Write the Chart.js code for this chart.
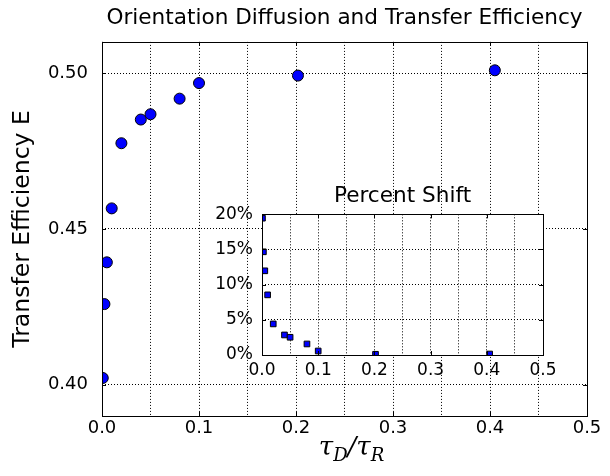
<!DOCTYPE html>
<html>
<head>
<meta charset="utf-8">
<script src="https://cdn.jsdelivr.net/npm/chart.js@4.4.0/dist/chart.umd.min.js"></script>
<style>
  html, body { margin: 0; padding: 0; background: #fff; }
  #quadro { position: relative; width: 610px; height: 476px; }
  #quadro canvas { position: absolute; left: 0; top: 0; }
</style>
</head>
<body>
<div id="quadro">
  <canvas id="graficoEficiencia" width="610" height="476"></canvas>
  <canvas id="graficoDesvio" width="610" height="476"></canvas>
</div>
<script>
// tau_D / tau_R de cada ponto (igual nos dois gráficos)
const razaoTau = [0.0008, 0.0025, 0.005, 0.01, 0.02, 0.04, 0.05, 0.08, 0.1, 0.202, 0.405];
// eficiência de transferência E (gráfico principal)
const eficiencia = [0.4022, 0.4259, 0.4393, 0.4566, 0.4775, 0.4851, 0.4868, 0.4918, 0.4968, 0.4992, 0.5009];
// desvio percentual (gráfico menor), em fração
const desvio = [0.1945, 0.1467, 0.1197, 0.0855, 0.0442, 0.0285, 0.0252, 0.0157, 0.0057, 0.0010, 0.0014];

// linhas de grade e rótulos dos eixos
const gradeX = [0, 0.05, 0.1, 0.15, 0.2, 0.25, 0.3, 0.35, 0.4, 0.45, 0.5];
const rotulosX = ['0.0', '', '0.1', '', '0.2', '', '0.3', '', '0.4', '', '0.5'];
const gradeY = [0.40, 0.45, 0.50];
const rotulosY = ['0.40', '0.45', '0.50'];
const gradeDesvio = [0, 0.05, 0.10, 0.15, 0.20];
const rotulosDesvio = ['0%', '5%', '10%', '15%', '20%'];

const fonte = 'DejaVu Sans';

// desenha as marquinhas para dentro e a moldura (estilo matplotlib)
const moldura = {
    id: 'moldura',
    beforeDraw(chart, args, opts) {
        if (opts.fundo) {
            const a = chart.chartArea;
            chart.ctx.save();
            chart.ctx.fillStyle = '#fff';
            chart.ctx.fillRect(a.left, a.top, a.right - a.left, a.bottom - a.top);
            chart.ctx.restore();
        }
    },
    afterDatasetsDraw(chart, args, opts) {
        const ctx = chart.ctx;
        const a = chart.chartArea;
        const tam = opts.tamanho || 4;
        ctx.save();
        ctx.strokeStyle = '#000';
        ctx.lineWidth = 1;
        ctx.beginPath();
        chart.scales.x.ticks.forEach(t => {
            if (!t.label) return;
            const px = Math.round(chart.scales.x.getPixelForValue(t.value)) + 0.5;
            ctx.moveTo(px, a.bottom); ctx.lineTo(px, a.bottom - tam);
            ctx.moveTo(px, a.top); ctx.lineTo(px, a.top + tam);
        });
        chart.scales.y.ticks.forEach(t => {
            if (!t.label) return;
            const py = Math.round(chart.scales.y.getPixelForValue(t.value)) + 0.5;
            ctx.moveTo(a.left, py); ctx.lineTo(a.left + tam, py);
            ctx.moveTo(a.right, py); ctx.lineTo(a.right - tam, py);
        });
        ctx.stroke();
        ctx.strokeRect(Math.round(a.left) + 0.5, Math.round(a.top) + 0.5,
            Math.round(a.right - a.left), Math.round(a.bottom - a.top));
        ctx.restore();
    }
};

// rótulo do eixo x com subscritos: tau_D / tau_R
const rotuloTau = {
    id: 'rotuloTau',
    afterDraw(chart) {
        const ctx = chart.ctx;
        const a = chart.chartArea;
        const partes = [
            { t: 'τ', tam: 26, dy: 0 },
            { t: 'D', tam: 18, dy: 6 },
            { t: '/', tam: 26, dy: 0 },
            { t: 'τ', tam: 26, dy: 0 },
            { t: 'R', tam: 18, dy: 6 }
        ];
        ctx.save();
        ctx.fillStyle = '#000';
        ctx.textBaseline = 'alphabetic';
        let total = 0;
        partes.forEach(p => {
            ctx.font = 'italic ' + p.tam + 'px "DejaVu Serif"';
            p.w = ctx.measureText(p.t).width;
            total += p.w;
        });
        let x = (a.left + a.right) / 2 + 7 - total / 2;
        partes.forEach(p => {
            ctx.font = 'italic ' + p.tam + 'px "DejaVu Serif"';
            ctx.fillText(p.t, x, 455 + p.dy);
            x += p.w;
        });
        ctx.restore();
    }
};

const gradePontilhada = {
    color: '#000',
    lineWidth: 1,
    drawTicks: false,
    borderDash: [1, 2]
};

new Chart(document.getElementById('graficoEficiencia').getContext('2d'), {
    type: 'scatter',
    data: {
        datasets: [{
            label: 'Transfer Efficiency E',
            data: razaoTau.map((v, i) => ({ x: v, y: eficiencia[i] })),
            backgroundColor: '#0000ff',
            borderColor: '#000',
            borderWidth: 1,
            pointRadius: 5.5,
            clip: 0
        }]
    },
    options: {
        responsive: false,
        animation: false,
        layout: { padding: { left: 0, right: 23, top: 0, bottom: 0 } },
        plugins: {
            legend: { display: false },
            tooltip: { enabled: false },
            title: {
                display: true,
                text: 'Orientation Diffusion and Transfer Efficiency',
                fullSize: false,
                color: '#000',
                font: { family: fonte, size: 21.6, weight: 'normal' },
                padding: { top: 5, bottom: 11 }
            },
            moldura: { tamanho: 4 }
        },
        scales: {
            x: {
                type: 'linear',
                min: 0,
                max: 0.5,
                afterBuildTicks: s => { s.ticks = gradeX.map(v => ({ value: v })); },
                afterFit: s => { s.height = 60; },
                ticks: {
                    autoSkip: false,
                    maxRotation: 0,
                    padding: 2,
                    color: '#000',
                    font: { family: fonte, size: 18 },
                    callback: (v, i) => rotulosX[i]
                },
                grid: gradePontilhada,
                border: { display: false, dash: [1, 2] }
            },
            y: {
                type: 'linear',
                min: 0.39,
                max: 0.51,
                afterBuildTicks: s => { s.ticks = gradeY.map(v => ({ value: v })); },
                afterFit: s => { s.width = 102; },
                ticks: {
                    padding: 14,
                    color: '#000',
                    font: { family: fonte, size: 18 },
                    callback: (v, i) => rotulosY[i]
                },
                grid: gradePontilhada,
                border: { display: false, dash: [1, 2] },
                title: {
                    display: true,
                    text: 'Transfer Efficiency E',
                    color: '#000',
                    font: { family: fonte, size: 23.5 },
                    padding: { top: 9, bottom: 0 }
                }
            }
        }
    },
    plugins: [moldura, rotuloTau]
});

new Chart(document.getElementById('graficoDesvio').getContext('2d'), {
    type: 'scatter',
    data: {
        datasets: [{
            label: 'Percent Shift',
            data: razaoTau.map((v, i) => ({ x: v, y: desvio[i] })),
            backgroundColor: '#0000ff',
            borderColor: '#000',
            borderWidth: 1,
            pointStyle: 'rect',
            pointRadius: 4,
            clip: 0
        }]
    },
    options: {
        responsive: false,
        animation: false,
        layout: { padding: { left: 200, right: 67, top: 180, bottom: 0 } },
        plugins: {
            legend: { display: false },
            tooltip: { enabled: false },
            title: {
                display: true,
                text: 'Percent Shift',
                fullSize: false,
                color: '#000',
                font: { family: fonte, size: 21.6, weight: 'normal' },
                padding: { top: 3, bottom: 5.4 }
            },
            moldura: { tamanho: 4, fundo: true }
        },
        scales: {
            x: {
                type: 'linear',
                min: 0,
                max: 0.5,
                afterBuildTicks: s => { s.ticks = gradeX.map(v => ({ value: v })); },
                afterFit: s => { s.height = 121; },
                ticks: {
                    autoSkip: false,
                    maxRotation: 0,
                    padding: 5,
                    color: '#000',
                    font: { family: fonte, size: 17 },
                    callback: (v, i) => rotulosX[i]
                },
                grid: gradePontilhada,
                border: { display: false, dash: [1, 2] }
            },
            y: {
                type: 'linear',
                min: 0,
                max: 0.2,
                afterBuildTicks: s => { s.ticks = gradeDesvio.map(v => ({ value: v })); },
                afterFit: s => { s.width = 62; },
                ticks: {
                    padding: 9,
                    color: '#000',
                    font: { family: fonte, size: 17 },
                    callback: (v, i) => rotulosDesvio[i]
                },
                grid: gradePontilhada,
                border: { display: false, dash: [1, 2] }
            }
        }
    },
    plugins: [moldura]
});
</script>
</body>
</html>
